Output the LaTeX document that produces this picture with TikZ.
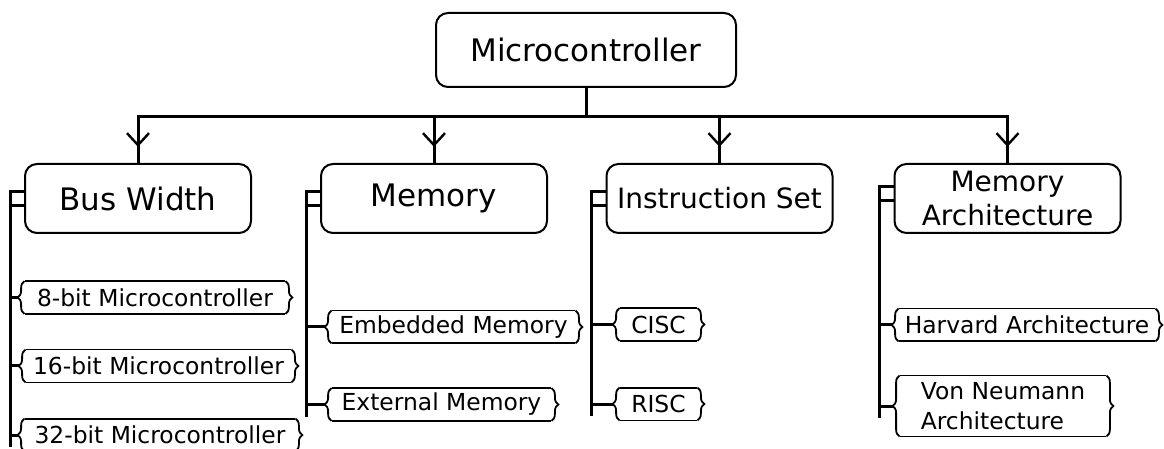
\documentclass[tikz,border=0pt]{standalone}
\usepackage{fontspec}
\setmainfont{DejaVu Sans}
\usetikzlibrary{arrows.meta,decorations.markings,decorations.pathreplacing}

\tikzset{
  topbox/.style={draw, line width=1pt, rounded corners=6pt, minimum width=150pt, minimum height=37pt, font=\fontsize{15.5}{18}\selectfont},
  catbox/.style={draw, line width=1pt, rounded corners=6pt, minimum width=113pt, minimum height=34.5pt, align=center, font=\fontsize{15.5}{18}\selectfont},
  catsmall/.style={font=\fontsize{14}{17}\selectfont},
  leaf/.style={inner sep=0pt, minimum height=16pt, font=\fontsize{11.7}{15}\selectfont},
  leafline/.style={line width=0.9pt},
  leafbrace/.style={line width=0.9pt, decorate, decoration={brace, amplitude=3.5pt}},
  bar/.style={line width=1.5pt},
  midarrow/.style={postaction={decorate}, decoration={markings, mark=at position 0.65 with {\arrow{Straight Barb[length=6pt,width=11pt,line width=1.2pt]}}}}
}

\begin{document}
\begin{tikzpicture}[x=0.5pt,y=-0.5pt]
  \useasboundingbox (0,0) rectangle (1164,449);

  % Radice
  \node[topbox] (mcu) at (586,50) {Microcontroller};
  \coordinate (hub) at ([yshift=-14.5pt]mcu.south);

  % Categorie
  \node[catbox] (bw) at (138,198.5) {Bus Width};
  \node[catbox] (mem) at (434,198.5) {Memory};
  \node[catbox, catsmall] (is) at (719.5,198.5) {Instruction Set};
  \node[catbox, catsmall] (ma) at (1007.5,198.5) {Memory\\Architecture};

  % Foglie
  \node[leaf, minimum width=137pt] (b8) at (155,297.5) {8-bit Microcontroller};
  \node[leaf, minimum width=139.5pt] (b16) at (158.5,366) {16-bit Microcontroller};
  \node[leaf, minimum width=142pt] (b32) at (160,435) {32-bit Microcontroller};
  \node[leaf, minimum width=128.5pt] (emb) at (453.5,327) {Embedded Memory};
  \node[leaf, minimum width=116.5pt] (ext) at (441.5,404.5) {External Memory};
  \node[leaf, minimum width=45.5pt] (cisc) at (658.5,324.5) {CISC};
  \node[leaf, minimum width=45.5pt] (risc) at (658.5,404) {RISC};
  \node[leaf, minimum width=135pt] (harv) at (1027,325) {Harvard Architecture};
  \node[leaf, minimum width=110pt, minimum height=30pt, align=left] (vn) at (1003,406) {Von Neumann\\Architecture};

  % Graffe delle foglie
  \foreach \n in {b8,b16,b32,emb,ext,cisc,risc,harv,vn}{
    \draw[leafline] ([xshift=3.5pt]\n.north west) -- ([xshift=-3.5pt]\n.north east)
                    ([xshift=3.5pt]\n.south west) -- ([xshift=-3.5pt]\n.south east);
    \draw[leafbrace] ([xshift=3.5pt]\n.south west) -- ([xshift=3.5pt]\n.north west);
    \draw[leafbrace] ([xshift=-3.5pt]\n.north east) -- ([xshift=-3.5pt]\n.south east);
  }

  % Bus e frecce
  \draw[bar] (mcu.south) -- (hub);
  \draw[bar, line cap=rect] (bw.north |- hub) -- (ma.north |- hub);
  \foreach \c in {bw,mem,is,ma}
    \draw[bar, midarrow] (\c.north |- hub) -- (\c.north);

  % Dorsali
  \draw[bar] ([yshift=3.5pt]bw.west) -- ++(-7pt,0) coordinate (bwtop) -- (bwtop |- b32.west) -- ++(0,-6pt);
  \draw[bar] ([yshift=-3.5pt]bw.west) -- ++(-7pt,0);
  \foreach \l in {b8,b16,b32} \draw[bar] (bwtop |- \l.west) -- (\l.west);

  \draw[bar] ([yshift=3.5pt]mem.west) -- ++(-7pt,0) coordinate (memtop) -- (memtop |- ext.west) -- ++(0,-6pt);
  \draw[bar] ([yshift=-3.5pt]mem.west) -- ++(-7pt,0);
  \foreach \l in {emb,ext} \draw[bar] (memtop |- \l.west) -- (\l.west);

  \draw[bar] ([yshift=3.5pt]is.west) -- ++(-7pt,0) coordinate (istop) -- (istop |- risc.west) -- ++(0,-6pt);
  \draw[bar] ([yshift=-3.5pt]is.west) -- ++(-7pt,0);
  \foreach \l in {cisc,risc} \draw[bar] (istop |- \l.west) -- (\l.west);

  \draw[bar] ([yshift=6pt]ma.west) -- ++(-7pt,0) coordinate (matop) -- (matop |- vn.west) -- ++(0,-6pt);
  \draw[bar] ([yshift=-1pt]ma.west) -- ++(-7pt,0);
  \foreach \l in {harv,vn} \draw[bar] (matop |- \l.west) -- (\l.west);
\end{tikzpicture}
\end{document}
